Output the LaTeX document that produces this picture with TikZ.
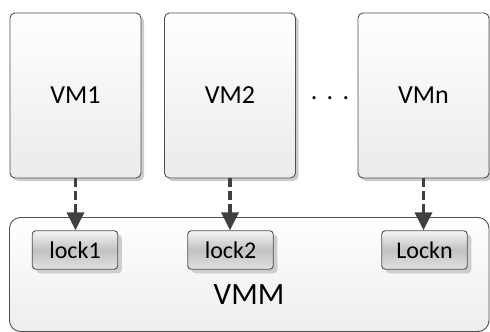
\documentclass[tikz,border=0pt]{standalone}
\usepackage{fontspec}
\setmainfont{Carlito}
\usetikzlibrary{arrows.meta,shadows}
\definecolor{edgec}{HTML}{505050}
\definecolor{arrc}{HTML}{404040}
\definecolor{shadc}{HTML}{CDCDCD}
\tikzset{
  vmbox/.style={draw=edgec, line width=0.9pt, rounded corners=5pt,
    top color=white, bottom color=black!8,
    minimum width=131pt, minimum height=165pt, inner sep=0pt,
    font=\fontsize{26}{30}\selectfont,
    drop shadow={shadow xshift=3pt, shadow yshift=-3pt, fill=shadc, opacity=1}},
  vmmbox/.style={draw=edgec, line width=0.9pt, rounded corners=11pt,
    top color=white, bottom color=black!7,
    minimum width=479.5pt, minimum height=114pt, inner sep=0pt},
  lockbox/.style={draw=edgec, line width=0.9pt, rounded corners=3.5pt,
    top color=black!4, bottom color=black!12, middle color=black!24,
    minimum width=85.5pt, minimum height=38.5pt, inner sep=0pt,
    font=\fontsize{24}{28}\selectfont,
    drop shadow={shadow xshift=4pt, shadow yshift=-4pt, fill=shadc, opacity=1}},
  arr/.style={draw=arrc, line width=3.5pt, dash pattern=on 9pt off 4pt,
    -{Triangle[length=18pt,width=17pt,fill=arrc]}, shorten >=0pt},
}
\begin{document}
\begin{tikzpicture}[x=1pt,y=-1pt]
\useasboundingbox[fill=white] (0,0) rectangle (490,332);
\node[vmbox] (vm1) at (75.5,95.5) {VM1};
\node[vmbox] (vm2) at (230,95.5) {VM2};
\node[vmbox] (vmn) at (423.5,95.5) {VMn};
\node[font=\fontsize{26}{30}\selectfont, inner sep=0pt] (dots) at (330,98) {.\hskip 9.3pt.\hskip 9.3pt.};
\node[vmmbox] (vmm) at (249.25,274.5) {};
\node[font=\fontsize{31}{36}\selectfont, inner sep=0pt] (vmmlabel) at (249,295) {VMM};
\node[lockbox] (lock1) at (75,250) {lock1};
\node[lockbox] (lock2) at (230.5,250) {lock2};
\node[lockbox] (lockn) at (424.5,250) {Lockn};
\draw[arr] (vm1.south) -- (vm1.south |- lock1.north);
\draw[arr] (vm2.south) -- (vm2.south |- lock2.north);
\draw[arr] (vmn.south) -- (vmn.south |- lockn.north);
\end{tikzpicture}
\end{document}
